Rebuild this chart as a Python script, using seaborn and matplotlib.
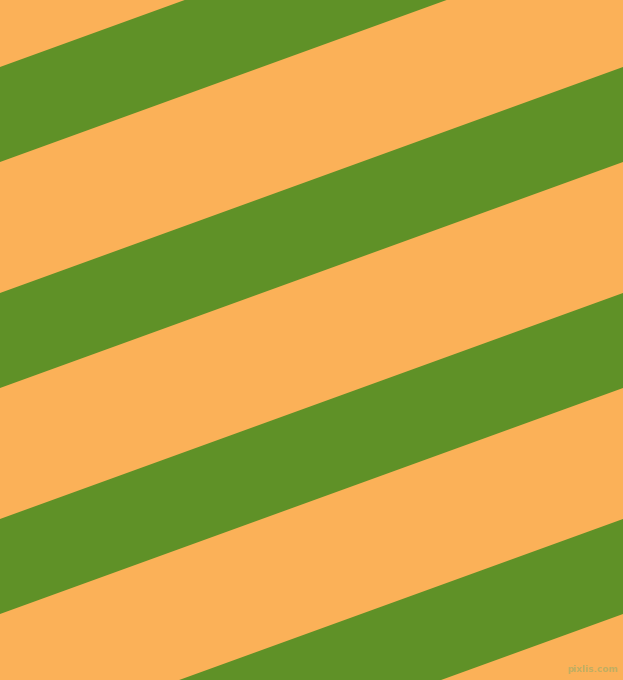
import matplotlib
matplotlib.use("Agg")
import numpy as np
import pandas as pd
import matplotlib.pyplot as plt
import seaborn as sns

# Canvas size in pixels
WIDTH = 623
HEIGHT = 680

# Green stripes: y of upper edge where each stripe meets the left border (pixels, y down)
stripe_top_left = [-159, 67, 293, 519, 745]
# y of lower edge at the left border
stripe_bottom_left = [-64, 162, 388, 614, 840]
# same edges where the stripes meet the right border
stripe_top_right = [-385, -159, 67, 293, 519]
stripe_bottom_right = [-290, -64, 162, 388, 614]

BG_COLOR = "#fbb158"
STRIPE_COLOR = "#5f9127"

sns.set_theme(style="white")
plt.rcParams['font.family'] = ['DejaVu Sans']

fig = plt.figure(figsize=(WIDTH / 100, HEIGHT / 100), dpi=100)
ax = fig.add_axes([0, 0, 1, 1])
ax.set_facecolor(BG_COLOR)
fig.patch.set_facecolor(BG_COLOR)

for t0, b0, t1, b1 in zip(stripe_top_left, stripe_bottom_left, stripe_top_right, stripe_bottom_right):
    edges = pd.DataFrame({"x": [0, WIDTH], "top": [t0, t1], "bottom": [b0, b1]})
    sns.lineplot(data=edges, x="x", y="top", ax=ax, color=STRIPE_COLOR, linewidth=0)
    ax.fill_between(edges["x"], edges["top"], edges["bottom"], color=STRIPE_COLOR, linewidth=0)

ax.set_xlim(0, WIDTH)
ax.set_ylim(HEIGHT, 0)
ax.axis("off")

ax.text(618, 670, "pixlis.com", fontsize=6.5, fontweight="bold", color="#bfae62",
        ha="right", va="center")

fig.savefig("out.png", dpi=100, facecolor=BG_COLOR)
